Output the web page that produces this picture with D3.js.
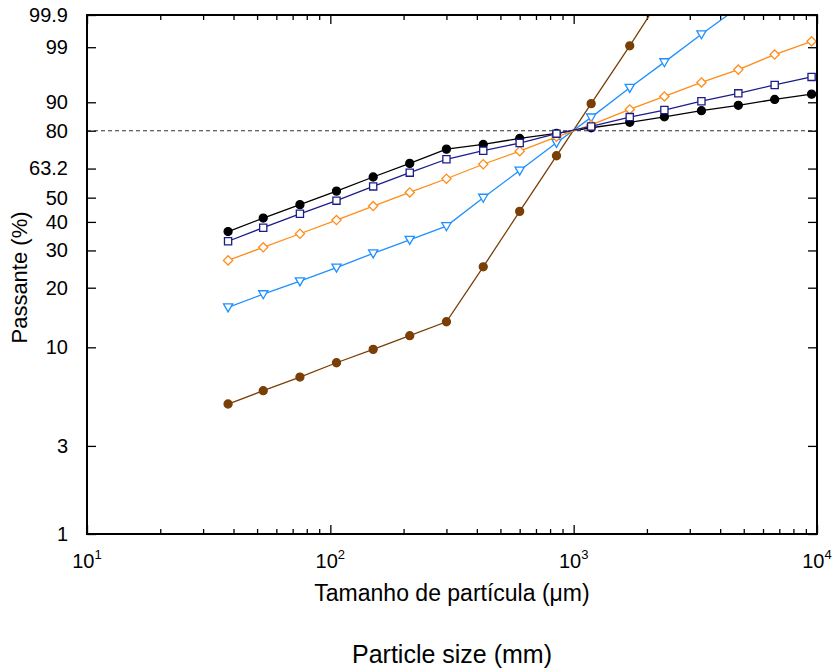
<!DOCTYPE html>
<html>
<head>
<meta charset="utf-8">
<script src="https://cdn.jsdelivr.net/npm/d3@7"></script>
<style>
  body { margin: 0; background: #fff; }
  text { font-family: "Liberation Sans", Arial, sans-serif; fill: #000; }
</style>
</head>
<body>
<div id="chart"></div>
<script>
var w = 834;
var h = 670;
var pLeft = 87, pRight = 817, pTop = 15, pBottom = 534;

// sieve sizes (um)
var sizes = [38, 53, 75, 106, 150, 212, 300, 425, 600, 850, 1180, 1700, 2360, 3350, 4750, 6700, 9500];

// cumulative passing (%) per curve
var serieBlack = [36.4, 41.5, 47.0, 52.9, 59.3, 65.6, 72.1, 74.2, 76.8, 78.9, 81.2, 83.3, 85.3, 87.4, 89.1, 90.8, 92.2];
var serieNavy = [33.0, 37.8, 43.2, 48.7, 55.0, 61.3, 67.5, 71.4, 74.8, 78.8, 81.7, 85.2, 87.6, 90.3, 92.4, 94.3, 95.8];
var serieOrange = [27.0, 31.0, 35.6, 40.7, 46.4, 52.3, 58.5, 65.2, 71.2, 77.5, 82.3, 87.8, 91.6, 94.8, 96.9, 98.5, 99.3];
var serieBlue = [16.0, 18.6, 21.5, 25.0, 29.1, 33.5, 38.4, 50.0, 62.3, 74.9, 85.1, 93.7, 97.8, 99.56, 99.95];
var serieBrown = [5.03, 5.92, 6.99, 8.31, 9.76, 11.48, 13.53, 25.2, 44.2, 69.1, 89.6, 99.08, 99.99];

var yTicks = [1, 3, 10, 20, 30, 40, 50, 63.2, 80, 90, 99, 99.9];
var yTickLabels = ['1', '3', '10', '20', '30', '40', '50', '63.2', '80', '90', '99', '99.9'];
var xTicks = [10, 100, 1000, 10000];
var xTickExp = ['1', '2', '3', '4'];
var refLine = 80;

// Rosin-Rammler probability transform
function rr(p) {
  return Math.log(-Math.log(1 - p / 100));
}

var x = d3.scaleLog().domain([10, 10000]).range([pLeft, pRight]);
var y = d3.scaleLinear().domain([rr(1), rr(99.9)]).range([pBottom, pTop]);

var minorTicks = [];
[10, 100, 1000].forEach(function (dec) {
  for (var k = 2; k <= 9; k++) minorTicks.push(dec * k);
});

var svg = d3.select('#chart')
  .append('svg')
  .attr('width', w)
  .attr('height', h);

svg.append('clipPath')
  .attr('id', 'clip')
  .append('rect')
  .attr('x', pLeft)
  .attr('y', pTop)
  .attr('width', pRight - pLeft)
  .attr('height', pBottom - pTop);

// x ticks (inward) on bottom and top
function xAxes(values, size) {
  svg.append('g')
    .attr('transform', 'translate(0,' + pBottom + ')')
    .call(d3.axisBottom(x).tickValues(values).tickSize(-size).tickFormat(''))
    .call(function (g) { g.select('.domain').remove(); })
    .selectAll('line').attr('stroke', '#000').attr('stroke-width', 1.3);
  svg.append('g')
    .attr('transform', 'translate(0,' + pTop + ')')
    .call(d3.axisTop(x).tickValues(values).tickSize(-size).tickFormat(''))
    .call(function (g) { g.select('.domain').remove(); })
    .selectAll('line').attr('stroke', '#000').attr('stroke-width', 1.3);
}
xAxes(xTicks, 9);
xAxes(minorTicks, 5);

// y ticks, labels on the left
svg.append('g')
  .attr('transform', 'translate(' + pLeft + ',0)')
  .call(d3.axisLeft(y).tickValues(yTicks.map(rr)).tickSize(-9).tickPadding(19)
    .tickFormat(function (d, i) { return yTickLabels[i]; }))
  .call(function (g) { g.select('.domain').remove(); })
  .call(function (g) {
    g.selectAll('line').attr('stroke', '#000').attr('stroke-width', 1.3);
    g.selectAll('text').style('font-size', '20px').attr('fill', '#000')
      .style('font-family', '"Liberation Sans", Arial, sans-serif');
  });

svg.append('g')
  .attr('transform', 'translate(' + pRight + ',0)')
  .call(d3.axisRight(y).tickValues(yTicks.map(rr)).tickSize(-9).tickFormat(''))
  .call(function (g) { g.select('.domain').remove(); })
  .selectAll('line').attr('stroke', '#000').attr('stroke-width', 1.3);

// x tick labels with exponents
var xl = svg.selectAll('text.xlab')
  .data(xTicks)
  .enter()
  .append('text')
  .attr('class', 'xlab')
  .attr('x', function (d) { return x(d); })
  .attr('y', 568)
  .attr('text-anchor', 'middle')
  .style('font-size', '20px');
xl.append('tspan').text('10');
xl.append('tspan')
  .attr('dy', -9)
  .style('font-size', '13px')
  .text(function (d, i) { return xTickExp[i]; });

// reference line
svg.append('line')
  .attr('x1', pLeft)
  .attr('x2', pRight)
  .attr('y1', y(rr(refLine)))
  .attr('y2', y(rr(refLine)))
  .attr('stroke', '#333')
  .attr('stroke-width', 1.2)
  .attr('stroke-dasharray', '4,3');

var series = [
  { values: serieBlack, color: '#000000', fill: '#000000', shape: 'circle' },
  { values: serieBrown, color: '#7a3f06', fill: '#7a3f06', shape: 'circle' },
  { values: serieBlue, color: '#1e90ff', fill: '#ffffff', shape: 'triangle' },
  { values: serieOrange, color: '#ff8c1a', fill: '#ffffff', shape: 'diamond' },
  { values: serieNavy, color: '#1c1c8c', fill: '#ffffff', shape: 'square' }
];

var shapes = {
  circle: 'M4,0A4,4 0 1,1 -4,0A4,4 0 1,1 4,0Z',
  square: 'M-3.6,-3.6L3.6,-3.6L3.6,3.6L-3.6,3.6Z',
  diamond: 'M0,-4.6L4.6,0L0,4.6L-4.6,0Z',
  triangle: 'M-4.6,-3.4L4.6,-3.4L0,4.6Z'
};

var line = d3.line()
  .x(function (d) { return x(d.size); })
  .y(function (d) { return y(rr(d.p)); });

var plot = svg.append('g').attr('clip-path', 'url(#clip)');

series.forEach(function (s) {
  var pts = s.values.map(function (p, i) { return { size: sizes[i], p: p }; });
  plot.append('path')
    .datum(pts)
    .attr('d', line)
    .attr('fill', 'none')
    .attr('stroke', s.color)
    .attr('stroke-width', 1.3);
  plot.selectAll(null)
    .data(pts)
    .enter()
    .append('path')
    .attr('d', shapes[s.shape])
    .attr('transform', function (d) {
      return 'translate(' + x(d.size) + ',' + y(rr(d.p)) + ')';
    })
    .attr('fill', s.fill)
    .attr('stroke', s.color)
    .attr('stroke-width', 1.3);
});

// frame
svg.append('rect')
  .attr('x', pLeft)
  .attr('y', pTop)
  .attr('width', pRight - pLeft)
  .attr('height', pBottom - pTop)
  .attr('fill', 'none')
  .attr('stroke', '#000')
  .attr('stroke-width', 2);

// titles
svg.append('text')
  .attr('x', (pLeft + pRight) / 2)
  .attr('y', 601)
  .attr('text-anchor', 'middle')
  .style('font-size', '23px')
  .text('Tamanho de partícula (μm)');

svg.append('text')
  .attr('transform', 'translate(27,' + ((pTop + pBottom) / 2 + 3) + ') rotate(-90)')
  .attr('text-anchor', 'middle')
  .style('font-size', '22px')
  .text('Passante (%)');

svg.append('text')
  .attr('x', (pLeft + pRight) / 2)
  .attr('y', 663)
  .attr('text-anchor', 'middle')
  .style('font-size', '25px')
  .text('Particle size (mm)');
</script>
</body>
</html>
